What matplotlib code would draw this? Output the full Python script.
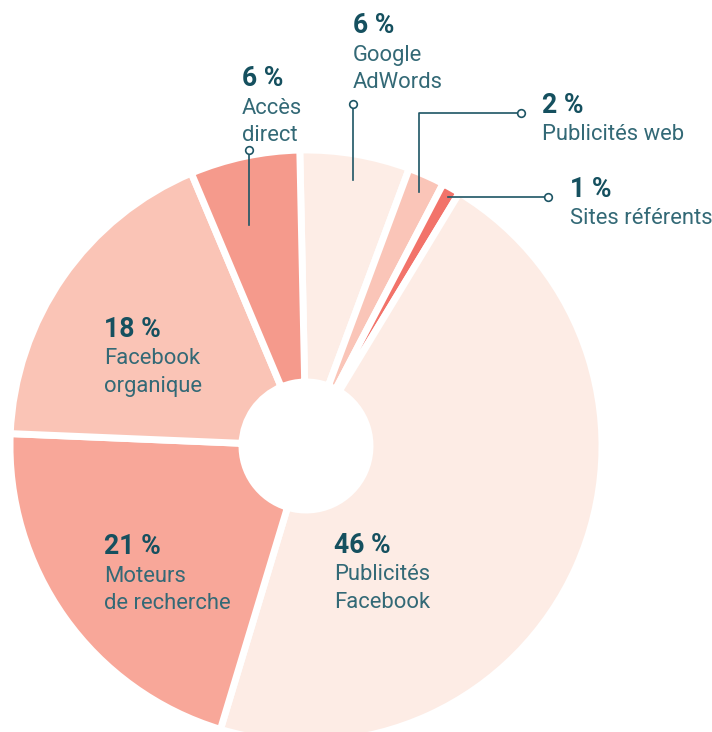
import matplotlib
matplotlib.use("Agg")
import matplotlib.pyplot as plt
from matplotlib.lines import Line2D

# ---- data ----
categories = ["Google AdWords", "Publicités web", "Sites référents",
              "Publicités Facebook", "Moteurs de recherche",
              "Facebook organique", "Accès direct"]
shares = [6, 2, 1, 46, 21, 18, 6]
pct_labels = ["6 %", "2 %", "1 %", "46 %", "21 %", "18 %", "6 %"]
name_labels = ["Google\nAdWords", "Publicités web", "Sites référents",
               "Publicités\nFacebook", "Moteurs\nde recherche",
               "Facebook\norganique", "Accès\ndirect"]
slice_colors = ["#FDEDE6", "#FAC5B8", "#F2736A", "#FDECE5",
                "#F8A799", "#FAC4B6", "#F59A8C"]

# ---- layout (pixel coordinates, y measured from top) ----
W, H = 712, 732
fig = plt.figure(figsize=(W / 100, H / 100), dpi=100)
ax = fig.add_axes([0, 0, 1, 1])
ax.set_xlim(0, W)
ax.set_ylim(0, H)
ax.set_aspect("equal")
ax.axis("off")

def Y(py):
    return H - py

cx, cy = 306, 446
r_out, r_in = 296, 64

ax.pie(shares, colors=slice_colors, startangle=91.2, counterclock=False,
       radius=r_out, center=(cx, Y(cy)), frame=False,
       wedgeprops=dict(width=r_out - r_in, edgecolor="white", linewidth=5.0))
ax.set_xlim(0, W)
ax.set_ylim(0, H)

pct_color = "#15505F"
name_color = "#336976"
FONT = ["Roboto", "DejaVu Sans"]

# label anchor (x, baseline of pct), leader lines
label_pos = {
    "Google AdWords": (353, 33),
    "Publicités web": (542, 113),
    "Sites référents": (570, 197),
    "Publicités Facebook": (334, 553),
    "Moteurs de recherche": (104, 554),
    "Facebook organique": (104, 337),
    "Accès direct": (242, 86),
}
line_gap = 27.5

for cat, pct, name in zip(categories, pct_labels, name_labels):
    x, yb = label_pos[cat]
    ax.text(x, Y(yb), pct, fontsize=19.2, fontweight="bold", color=pct_color,
            family=FONT, va="baseline", ha="left")
    for i, line in enumerate(name.split("\n")):
        ax.text(x, Y(yb + line_gap * (i + 1)), line, fontsize=15.8,
                color=name_color, family=FONT, va="baseline", ha="left")

lc = "#1E5565"
leaders = [
    [(249, 150), (249, 225)],
    [(353, 104), (353, 180)],
    [(520.5, 113), (419, 113), (419, 192)],
    [(548, 197), (448, 197)],
]
for pts in leaders:
    xs = [p[0] for p in pts]
    ys = [Y(p[1]) for p in pts]
    ax.add_line(Line2D(xs, ys, color=lc, linewidth=1.2, zorder=5))
    ax.plot([xs[0]], [ys[0]], marker="o", markersize=5.5, markerfacecolor="white",
            markeredgecolor=lc, markeredgewidth=1.2, zorder=6)

fig.savefig("out.png", dpi=100)
